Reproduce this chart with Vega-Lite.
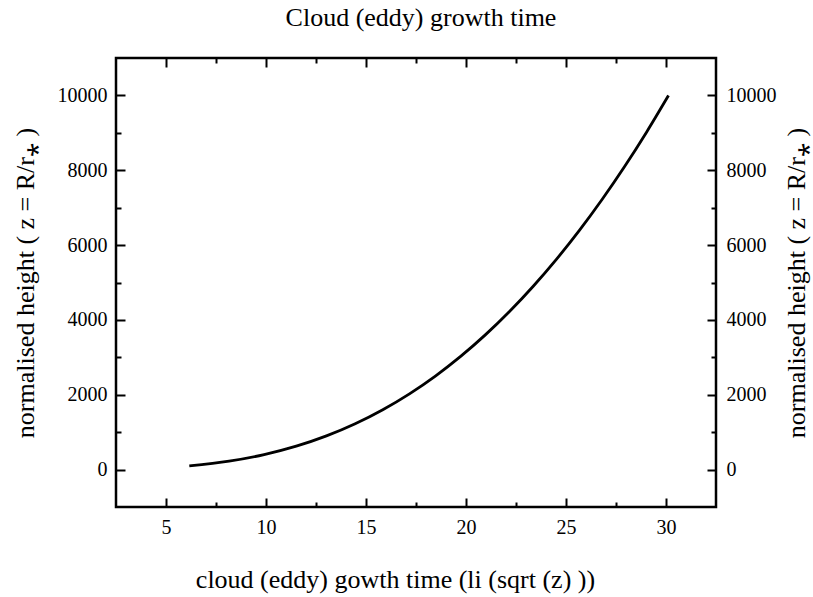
{
  "$schema": "https://vega.github.io/schema/vega-lite/v6.json",
  "autosize": {"type": "none"},
  "width": 600,
  "height": 449,
  "padding": {"left": 116, "top": 58, "right": 97, "bottom": 90},
  "background": "white",
  "title": {"text": "Cloud (eddy) growth time", "font": "Liberation Serif", "fontSize": 26, "fontWeight": "normal", "color": "black", "offset": 26, "anchor": "middle", "dx": 5},
  "data": {"values": [
    {"t": 6.1656, "z": 100},
    {"t": 8.1550, "z": 225},
    {"t": 9.9053, "z": 400},
    {"t": 11.5130, "z": 625},
    {"t": 13.0228, "z": 900},
    {"t": 14.4597, "z": 1225},
    {"t": 15.8397, "z": 1600},
    {"t": 17.1735, "z": 2025},
    {"t": 18.4689, "z": 2500},
    {"t": 19.7314, "z": 3025},
    {"t": 20.9656, "z": 3600},
    {"t": 22.1749, "z": 4225},
    {"t": 23.3620, "z": 4900},
    {"t": 24.5293, "z": 5625},
    {"t": 25.6788, "z": 6400},
    {"t": 26.8119, "z": 7225},
    {"t": 27.9301, "z": 8100},
    {"t": 29.0346, "z": 9025},
    {"t": 30.1261, "z": 10000}
  ]},
  "config": {
    "view": {"stroke": "black", "strokeWidth": 2.5},
    "axis": {"domain": false, "grid": false, "tickColor": "black", "tickWidth": 2, "labelFont": "Liberation Serif", "labelFontSize": 20, "labelColor": "black", "titleFont": "Liberation Serif", "titleFontSize": 26, "titleFontWeight": "normal", "titleColor": "black", "format": "d"}
  },
  "resolve": {"axis": {"x": "independent", "y": "independent"}},
  "layer": [
    {
      "mark": {"type": "line", "color": "black", "strokeWidth": 2.8, "interpolate": "monotone"},
      "encoding": {
        "x": {"field": "t", "type": "quantitative", "scale": {"domain": [2.5, 32.5], "nice": false, "zero": false},
          "axis": {"orient": "bottom", "values": [5, 10, 15, 20, 25, 30], "ticks": false, "labelPadding": 10, "title": "cloud (eddy) gowth time (li (sqrt (z) ))", "titlePadding": 29, "titleX": 279}},
        "y": {"field": "z", "type": "quantitative", "scale": {"domain": [-1000, 11000], "nice": false, "zero": false},
          "axis": {"orient": "left", "values": [0, 2000, 4000, 6000, 8000, 10000], "ticks": false, "labelPadding": 9, "title": "normalised height  ( z = R/r⁎ )", "titlePadding": 19}}
      }
    },
    {
      "mark": {"type": "line", "strokeOpacity": 0},
      "encoding": {
        "x": {"field": "t", "type": "quantitative", "axis": {"orient": "top", "values": [5, 10, 15, 20, 25, 30], "tickSize": 9, "offset": -9, "labels": false, "title": null}},
        "y": {"field": "z", "type": "quantitative",
          "axis": {"orient": "right", "values": [0, 2000, 4000, 6000, 8000, 10000], "ticks": false, "labelPadding": 10, "title": "normalised height  ( z = R/r⁎ )", "titleAngle": -90, "titlePadding": 33}}
      }
    },
    {
      "mark": {"type": "line", "strokeOpacity": 0},
      "encoding": {
        "x": {"field": "t", "type": "quantitative", "axis": {"orient": "bottom", "values": [7.5, 12.5, 17.5, 22.5, 27.5], "tickSize": 5, "offset": -5, "labels": false, "title": null}},
        "y": {"field": "z", "type": "quantitative", "axis": {"orient": "left", "values": [1000, 3000, 5000, 7000, 9000], "tickSize": 5, "offset": -5, "labels": false, "title": null}}
      }
    },
    {
      "mark": {"type": "line", "strokeOpacity": 0},
      "encoding": {
        "x": {"field": "t", "type": "quantitative", "axis": {"orient": "top", "values": [7.5, 12.5, 17.5, 22.5, 27.5], "tickSize": 5, "offset": -5, "labels": false, "title": null}},
        "y": {"field": "z", "type": "quantitative", "axis": {"orient": "right", "values": [1000, 3000, 5000, 7000, 9000], "tickSize": 5, "offset": -5, "labels": false, "title": null}}
      }
    },
    {
      "mark": {"type": "line", "strokeOpacity": 0},
      "encoding": {
        "x": {"field": "t", "type": "quantitative", "axis": {"orient": "bottom", "values": [5, 10, 15, 20, 25, 30], "tickSize": 9, "offset": -9, "labels": false, "title": null}},
        "y": {"field": "z", "type": "quantitative", "axis": {"orient": "left", "values": [0, 2000, 4000, 6000, 8000, 10000], "tickSize": 9, "offset": -9, "labels": false, "title": null}}
      }
    },
    {
      "mark": {"type": "line", "strokeOpacity": 0},
      "encoding": {
        "x": {"field": "t", "type": "quantitative", "axis": null},
        "y": {"field": "z", "type": "quantitative", "axis": {"orient": "right", "values": [0, 2000, 4000, 6000, 8000, 10000], "tickSize": 9, "offset": -9, "labels": false, "title": null}}
      }
    }
  ]
}
